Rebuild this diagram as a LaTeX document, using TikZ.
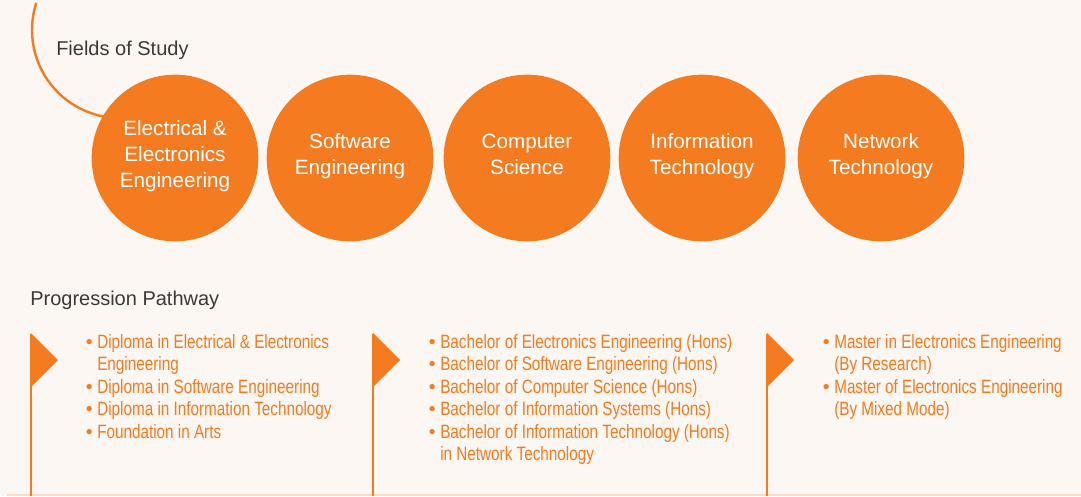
\documentclass[tikz,border=0pt]{standalone}
\usepackage{fontspec}
\setmainfont{Liberation Sans}
\newfontfamily\narrowfont{Liberation Sans}[FakeStretch=0.79]
\usetikzlibrary{positioning}
\definecolor{uniorange}{HTML}{F47B20}
\definecolor{paper}{HTML}{FCF7F3}
\definecolor{headgray}{HTML}{3A3A3A}
\definecolor{rulepeach}{HTML}{F8DCC4}
\tikzstyle{field}=[circle,fill=uniorange,minimum size=125pt,inner sep=0pt,align=center,text=white,font=\fontsize{15.5}{19.5}\selectfont,execute at begin node=\strut,execute at end node=\strut]
\tikzstyle{heading}=[anchor=west,inner sep=0pt,text=headgray,font=\fontsize{15}{18}\selectfont]
\tikzstyle{pathlist}=[anchor=north west,inner sep=0pt,align=left,text=uniorange,font=\narrowfont\fontsize{14.5}{16.9}\selectfont]
\newcommand\pbul{\llap{\rmfamily\textbullet\hspace{3.5pt}}}

\begin{document}
\begin{tikzpicture}[x=0.75pt,y=0.75pt]
\fill[paper] (0,0) rectangle (1081,-496);
\useasboundingbox (0,0) rectangle (1081,-496);
%% fields of study
\draw[uniorange,line width=1.8pt] (120,-30) ++(162:88) arc (162:262:88); %%
\node[heading] (fos) at (56,-50) {Fields of Study}; %%
\begin{scope}
\node[field] (eee) at (175,-158) {Electrical \&\\Electronics\\Engineering}; %%
\node[field] (swe) at (350,-158) {Software\\Engineering}; %%
\node[field] (cs) at (527,-158) {Computer\\Science}; %%
\node[field] (it) at (702,-158) {Information\\Technology}; %%
\node[field] (nt) at (881,-158) {Network\\Technology}; %%
\end{scope}
%% progression pathway
\node[heading] (pp) at (30,-300) {Progression Pathway}; %%
\draw[rulepeach,line width=1.1pt] (7,-495) -- (1081,-495); %%
\foreach \px in {31,373,767} {
  \fill[uniorange] (\px,-333) -- (\px+27,-360) -- (\px,-387) -- cycle; %%
  \draw[uniorange,line width=2.2pt] (\px,-334) -- (\px,-496); %%
}
\node[pathlist] (dip) at (97,-334) {\pbul Diploma in Electrical \& Electronics\\Engineering\\\pbul Diploma in Software Engineering\\\pbul Diploma in Information Technology\\\pbul Foundation in Arts}; %%
\node[pathlist] (bach) at (440,-334) {\pbul Bachelor of Electronics Engineering (Hons)\\\pbul Bachelor of Software Engineering (Hons)\\\pbul Bachelor of Computer Science (Hons)\\\pbul Bachelor of Information Systems (Hons)\\\pbul Bachelor of Information Technology (Hons)\\in Network Technology}; %%
\node[pathlist] (mast) at (834,-334) {\pbul Master in Electronics Engineering\\(By Research)\\\pbul Master of Electronics Engineering\\(By Mixed Mode)}; %%
\end{tikzpicture}
\end{document}
